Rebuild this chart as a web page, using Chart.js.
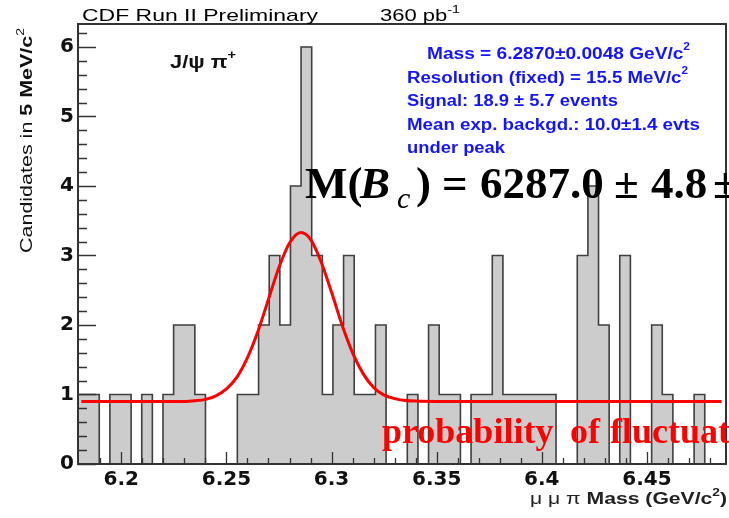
<!DOCTYPE html>
<html><head><meta charset="utf-8">
<script src="https://cdn.jsdelivr.net/npm/chart.js@4.4.1/dist/chart.umd.min.js"></script>
<style>html,body{margin:0;padding:0;background:#fff;}</style>
</head><body>
<canvas id="c" width="729" height="518"></canvas>
<script>
// ---- data ----
const binLow = 6.1794;           // lower edge of histogram (GeV/c^2)
const binHigh = 6.4876;          // upper edge of histogram
const counts = [1,1,0,1,1,0,1,0,1,2, 2,1,0,0,0,1,1,2,3,2, 4,6,3,1,2,3,1,1,2,0,
                0,1,0,2,1,1,0,1,1,3, 1,1,1,1,1,0,0,3,4,2, 0,3,0,0,2,1,0,0,1,0, 0];
const fitX = [6.181,6.23,6.235,6.24,6.245,6.25,6.255,6.26,6.265,6.27,6.275,6.28,6.2855,6.29,6.295,6.30,6.305,6.31,6.315,6.32,6.325,6.33,6.335,6.34,6.35,6.4855];
const fitY = [0.90,0.90,0.91,0.93,0.98,1.08,1.25,1.53,1.91,2.37,2.83,3.18,3.33,3.23,2.91,2.47,2.00,1.60,1.30,1.10,0.99,0.94,0.915,0.905,0.90,0.90];
const xTickVals = [6.2,6.25,6.3,6.35,6.4,6.45];
const xTickLabels = ['6.2','6.25','6.3','6.35','6.4','6.45'];
const yTickVals = [0,1,2,3,4,5,6];
const yTickLabels = ['0','1','2','3','4','5','6'];
const yMax = 6.33;

// ---- derived structures ----
const nb = counts.length;
const bw = (binHigh - binLow) / nb;
const histData = counts.map((c, i) => ({x: binLow + (i + 0.5) * bw, y: c}));
const outline = [{x: binLow, y: 0}].concat(counts.map((c, i) => ({x: binLow + i * bw, y: c})));
outline.push({x: binHigh, y: counts[nb - 1]});
const fitData = fitX.map((x, i) => ({x, y: fitY[i]}));

function drawSegs(ctx, segs, x, y, targetW, color, rot) {
  ctx.save();
  let nat = 0;
  for (const s of segs) { ctx.font = s.font; s.w = ctx.measureText(s.t).width; nat += s.w; }
  const sx = targetW ? targetW / nat : 1;
  ctx.translate(x, y);
  if (rot) ctx.rotate(rot);
  ctx.scale(sx, 1);
  ctx.fillStyle = color; ctx.textBaseline = 'alphabetic'; ctx.textAlign = 'left';
  let cx = 0;
  for (const s of segs) { ctx.font = s.font; ctx.fillText(s.t, cx, s.dy || 0); cx += s.w; }
  ctx.restore();
}

const SANS = '"Liberation Sans", Arial, sans-serif';
const SERIF = '"Liberation Serif", "Times New Roman", serif';

const decor = {
  id: 'decor',
  beforeDraw(chart) {
    const ctx = chart.ctx;
    ctx.save(); ctx.fillStyle = '#fff'; ctx.fillRect(0, 0, chart.width, chart.height); ctx.restore();
  },
  afterDatasetsDraw(chart) {
    const ctx = chart.ctx, a = chart.chartArea, xs = chart.scales.x, ys = chart.scales.y;
    ctx.save();
    // inward ticks
    ctx.strokeStyle = '#333'; ctx.lineWidth = 1.3;
    ctx.beginPath();
    for (let k = 1; k <= 30; k++) {
      const v = 6.18 + k * 0.01;
      if (v > binHigh) break;
      const major = Math.abs(v * 20 - Math.round(v * 20)) < 1e-6;
      const px = Math.round(xs.getPixelForValue(v)) + 0.5;
      ctx.moveTo(px, a.bottom); ctx.lineTo(px, a.bottom - (major ? 12 : 6));
    }
    for (let k = 0; k <= 31; k++) {
      const v = k * 0.2;
      if (v > yMax) break;
      const major = k % 5 === 0;
      const py = Math.round(ys.getPixelForValue(v)) + 0.5;
      ctx.moveTo(a.left, py); ctx.lineTo(a.left + (major ? 18 : 9), py);
    }
    ctx.stroke();
    // frame
    ctx.strokeStyle = '#333'; ctx.lineWidth = 2;
    ctx.strokeRect(a.left, a.top, a.right - a.left, a.bottom - a.top);
    ctx.restore();
  },
  afterDraw(chart) {
    const ctx = chart.ctx;
    // title texts
    drawSegs(ctx, [{t: 'CDF Run II Preliminary', font: '17px ' + SANS}], 82, 21, 236, '#000');
    drawSegs(ctx, [{t: '360 pb', font: '17px ' + SANS}, {t: '-1', font: '11px ' + SANS, dy: -8}], 380, 21, 80, '#000');
    drawSegs(ctx, [{t: 'J/\u03c8 \u03c0', font: 'bold 18px ' + SANS}, {t: '+', font: 'bold 12px ' + SANS, dy: -9}], 170, 68, 66, '#111');
    // fit results (blue)
    const B = 'bold 16px ' + SANS, Bs = 'bold 10px ' + SANS, blue = '#1414ff';
    drawSegs(ctx, [{t: 'Mass = 6.2870\u00b10.0048 GeV/c', font: B}, {t: '2', font: Bs, dy: -9}], 427, 58.5, 263, blue);
    drawSegs(ctx, [{t: 'Resolution (fixed) = 15.5 MeV/c', font: B}, {t: '2', font: Bs, dy: -9}], 407, 82.5, 281, blue);
    drawSegs(ctx, [{t: 'Signal: 18.9 \u00b1 5.7 events', font: B}], 407, 106, 211, blue);
    drawSegs(ctx, [{t: 'Mean exp. backgd.: 10.0\u00b11.4 evts', font: B}], 407, 129.5, 293, blue);
    drawSegs(ctx, [{t: 'under peak', font: B}], 407, 153, 98, blue);
    // axis titles
    drawSegs(ctx, [{t: 'Candidates in ', font: '17px ' + SANS}, {t: '5 MeV/c', font: 'bold 17px ' + SANS}, {t: '2', font: '11px ' + SANS, dy: -8}], 32, 253, 225, '#111', -Math.PI / 2);
    drawSegs(ctx, [{t: '\u03bc \u03bc \u03c0 ', font: '17px ' + SANS}, {t: 'Mass (GeV/c', font: 'bold 17px ' + SANS}, {t: '2', font: 'bold 11px ' + SANS, dy: -8}, {t: ')', font: 'bold 17px ' + SANS}], 530, 504, 197, '#222');
    // big overlay text
    ctx.save();
    ctx.fillStyle = '#000'; ctx.textBaseline = 'alphabetic';
    const BF = 'bold 45px ' + SERIF;
    ctx.font = BF; ctx.fillText('M(', 305, 198);
    ctx.font = 'bold italic 45px ' + SERIF; ctx.fillText('B', 360, 198);
    ctx.font = 'italic 30px ' + SERIF; ctx.fillText('c', 397, 208);
    ctx.font = BF; ctx.fillText(')', 416, 198);
    ctx.fillText('=', 442, 198);
    ctx.fillText('6287.0', 480, 198);
    ctx.fillText('\u00b1', 614, 198);
    ctx.fillText('4.8', 651, 198);
    ctx.fillText('\u00b1', 713, 198);
    ctx.fillStyle = '#ff0000';
    ctx.font = 'bold 36px ' + SERIF;
    ctx.fillText('probability', 382, 442.5);
    ctx.fillText('of', 570, 442.5);
    ctx.fillText('fluctuation', 610, 442.5);
    ctx.restore();
  }
};

const tickFont = {family: '"DejaVu Sans", sans-serif', size: 20, weight: 'bold'};

new Chart(document.getElementById('c').getContext('2d'), {
  type: 'bar',
  data: {
    datasets: [
      {type: 'line', label: 'fit', data: fitData, borderColor: '#ff0000', borderWidth: 3, pointRadius: 0,
       cubicInterpolationMode: 'monotone', fill: false, order: 1},
      {type: 'line', label: 'outline', data: outline, stepped: 'before', borderColor: '#404040', borderWidth: 1.6,
       pointRadius: 0, fill: false, order: 2},
      {type: 'bar', label: 'hist', data: histData, backgroundColor: '#cccccc', borderWidth: 0,
       barPercentage: 1, categoryPercentage: 1, order: 3}
    ]
  },
  options: {
    responsive: false, animation: false, devicePixelRatio: 1,
    layout: {padding: {top: 24, right: 3, left: 0, bottom: 0}},
    plugins: {legend: {display: false}, tooltip: {enabled: false}},
    scales: {
      x: {
        type: 'linear', min: binLow, max: binHigh, offset: false,
        grid: {display: false, drawTicks: false}, border: {display: false},
        ticks: {font: tickFont, color: '#111', padding: 4, autoSkip: false, maxRotation: 0,
                callback: (v, i) => xTickLabels[i]},
        afterBuildTicks: s => { s.ticks = xTickVals.map(v => ({value: v})); },
        afterFit: s => { s.height = 54; }
      },
      y: {
        type: 'linear', min: 0, max: yMax,
        grid: {display: false, drawTicks: false}, border: {display: false},
        ticks: {font: tickFont, color: '#111', padding: 4, callback: (v, i) => yTickLabels[i]},
        afterBuildTicks: s => { s.ticks = yTickVals.map(v => ({value: v})); },
        afterFit: s => { s.width = 78; }
      }
    }
  },
  plugins: [decor]
});
</script>
</body></html>
